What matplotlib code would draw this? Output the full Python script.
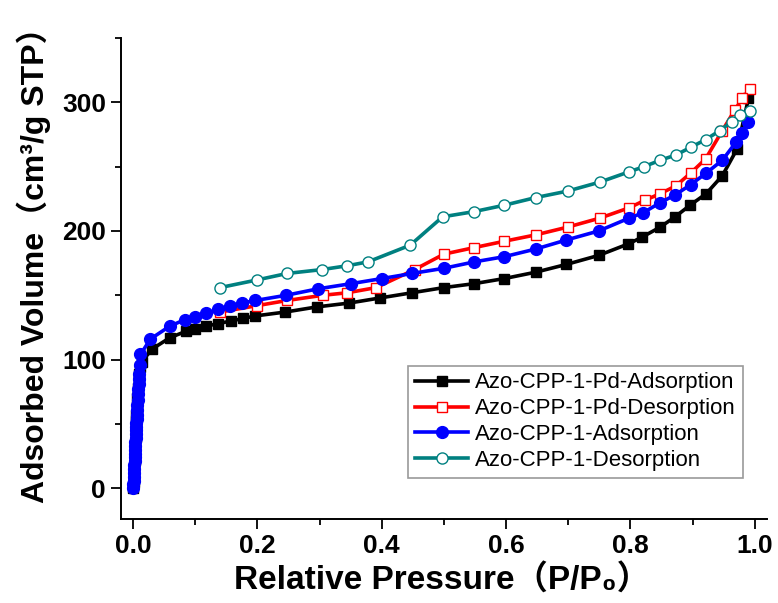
import matplotlib.pyplot as plt
from matplotlib.ticker import MultipleLocator

# Azo-CPP-1-Pd, adsorpcja
pd_ads_x = [0.0005, 0.001, 0.0015, 0.002, 0.0025, 0.003, 0.0035, 0.004, 0.0045, 0.005,
            0.0055, 0.006, 0.007, 0.008, 0.009, 0.010, 0.012, 0.014, 0.030,
            0.059, 0.085, 0.100, 0.117, 0.137, 0.157, 0.177, 0.197, 0.245, 0.296,
            0.348, 0.398, 0.449, 0.500, 0.548, 0.597, 0.648, 0.697, 0.749, 0.797,
            0.818, 0.848, 0.872, 0.896, 0.922, 0.948, 0.972, 0.990]
pd_ads_y = [0, 5, 10, 16, 22, 28, 34, 40, 46, 52,
            57, 62, 70, 78, 84, 89, 94, 98, 108,
            117, 122, 124, 126, 128, 130, 132, 134, 137, 141,
            144, 148, 152, 156, 159, 163, 168, 174, 181, 190,
            195, 203, 211, 220, 229, 243, 264, 303]

# Azo-CPP-1-Pd, desorpcja
pd_des_x = [0.992, 0.980, 0.968, 0.948, 0.921, 0.897, 0.873, 0.848, 0.824, 0.798,
            0.751, 0.699, 0.648, 0.597, 0.548, 0.500, 0.453, 0.391, 0.345, 0.305,
            0.248, 0.200, 0.140]
pd_des_y = [310, 303, 294, 278, 256, 245, 235, 229, 224, 218,
            210, 203, 197, 192, 187, 182, 170, 156, 152, 150,
            146, 142, 137]

# Azo-CPP-1, adsorpcja
ads_x = [0.0003, 0.0006, 0.0009, 0.0012, 0.0015, 0.0018, 0.0021, 0.0024, 0.0027, 0.003,
         0.0033, 0.0036, 0.0039, 0.0042, 0.0045, 0.0048, 0.0051, 0.0054, 0.0057, 0.006,
         0.0065, 0.007, 0.0075, 0.008, 0.0085, 0.009, 0.0095, 0.010, 0.011, 0.012,
         0.028, 0.059, 0.083, 0.100, 0.118, 0.137, 0.156,
         0.176, 0.197, 0.246, 0.297, 0.350, 0.400, 0.449, 0.500, 0.549, 0.597,
         0.648, 0.697, 0.749, 0.798, 0.820, 0.848, 0.872, 0.897, 0.922, 0.948,
         0.970, 0.979, 0.990]
ads_y = [0, 3, 6, 9, 12, 15, 18, 21, 24, 27,
         30, 33, 36, 39, 42, 45, 48, 51, 54, 57,
         61, 65, 69, 73, 77, 81, 85, 89, 96, 104,
         116, 126, 131, 133, 136, 139, 142,
         144, 146, 150, 155, 159, 163, 167, 171, 176, 180,
         186, 193, 200, 210, 214, 222, 228, 236, 245, 255,
         269, 276, 285]

# Azo-CPP-1, desorpcja
des_x = [0.992, 0.977, 0.963, 0.944, 0.921, 0.897, 0.873, 0.848, 0.822, 0.798,
         0.751, 0.699, 0.648, 0.597, 0.548, 0.498, 0.446, 0.378, 0.345, 0.304,
         0.248, 0.200, 0.140]
des_y = [293, 290, 285, 278, 271, 265, 259, 255, 250, 246,
         238, 231, 226, 220, 215, 211, 189, 176, 173, 170,
         167, 162, 156]

labels = ["Azo-CPP-1-Pd-Adsorption", "Azo-CPP-1-Pd-Desorption",
          "Azo-CPP-1-Adsorption", "Azo-CPP-1-Desorption"]

fonts = ['Liberation Sans', 'DejaVu Sans', 'Noto Sans CJK SC']
plt.rcParams['font.family'] = fonts

fig = plt.figure(figsize=(7.78, 6.03), dpi=100)
ax = fig.add_axes([0.155, 0.139, 0.831, 0.798])

lw = 2.6
ax.plot(pd_ads_x, pd_ads_y, '-s', color='black', lw=lw, ms=7,
        label=labels[0], zorder=3)
ax.plot(pd_des_x, pd_des_y, '-s', color='red', lw=lw, ms=7,
        mfc='white', mec='red', mew=1.0, label=labels[1], zorder=4)
ax.plot(ads_x, ads_y, '-o', color='blue', lw=lw, ms=8.5,
        label=labels[2], zorder=5)
ax.plot(des_x, des_y, '-o', color='#008080', lw=lw, ms=8,
        mfc='white', mec='#008080', mew=1.0, label=labels[3], zorder=6)

ax.set_xlim(-0.02, 1.02)
ax.set_ylim(-24, 350)
ax.xaxis.set_major_locator(MultipleLocator(0.2))
ax.xaxis.set_minor_locator(MultipleLocator(0.1))
ax.yaxis.set_major_locator(MultipleLocator(100))
ax.yaxis.set_minor_locator(MultipleLocator(50))

for s in ['top', 'right']:
    ax.spines[s].set_visible(False)
for s in ['left', 'bottom']:
    ax.spines[s].set_linewidth(1.4)

ax.tick_params(which='major', length=7, width=1.3, direction='out')
ax.tick_params(which='minor', length=4, width=1.3, direction='out')
ax.tick_params(labelsize=19)
for t in ax.get_xticklabels() + ax.get_yticklabels():
    t.set_fontweight('bold')

ax.set_xlabel("Relative Pressure（P/P₀）", fontsize=24, fontweight='bold')
ax.set_ylabel("Adsorbed Volume（cm³/g STP）", fontsize=23, fontweight='bold')
ax.xaxis.set_label_coords(0.497, -0.093)
ax.yaxis.set_label_coords(-0.108, 0.545)

leg = ax.legend(loc='lower right', bbox_to_anchor=(0.962, 0.086),
                borderaxespad=0, fontsize=16, fancybox=False,
                edgecolor='#808080', handlelength=2.4, handletextpad=0.3,
                labelspacing=0.22, borderpad=0.3)
leg.get_frame().set_linewidth(1.2)

fig.savefig("out.png", dpi=100)
